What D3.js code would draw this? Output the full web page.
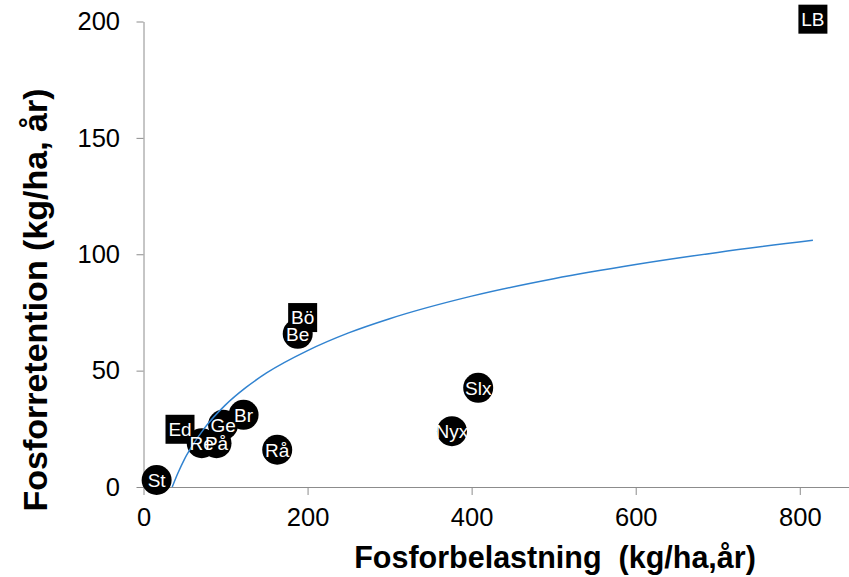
<!DOCTYPE html>
<html>
<head>
<meta charset="utf-8">
<script src="https://cdn.jsdelivr.net/npm/d3@7"></script>
<style>
  html, body { margin: 0; padding: 0; background: #fff; }
  svg { display: block; font-family: "Liberation Sans", Arial, sans-serif; }
</style>
</head>
<body>
<svg id="chart" width="849" height="577"></svg>
<script>
// Circle-marker sites
const circleSites = ["St", "Re", "På", "Ge", "Br", "Rå", "Be", "Nyx", "Slx"];
const circleLoad = [16, 71, 89, 97, 122, 163, 188, 376, 408];
const circleRet  = [3, 18.8, 18.8, 26.7, 31, 16, 65.8, 24, 42.6];

// Square-marker sites
const squareSites = ["Ed", "Bö", "LB"];
const squareLoad = [44.5, 194, 816];
const squareRet  = [24.8, 72.8, 201];

// Trend curve
const trendLoad = [35, 42, 50, 60, 75, 100, 125, 150, 200, 250, 300, 400, 500, 600, 700, 816];
const trendRet  = [0, 6, 12, 18, 25.6, 35.3, 42.8, 49, 58.6, 66.2, 72.3, 82, 89.5, 95.6, 100.8, 106];

const xTicks = [0, 200, 400, 600, 800];
const yTicks = [0, 50, 100, 150, 200];

const xTitle = "Fosforbelastning  (kg/ha,år)";
const yTitle = "Fosforretention (kg/ha, år)";

const svg = d3.select("#chart");
const x = d3.scaleLinear().domain([0, 860]).range([143.5, 849]);
const y = d3.scaleLinear().domain([0, 200]).range([487, 21.5]);
const axisColor = "#8c8c8c";
const font = "Liberation Sans, Arial, sans-serif";

// X axis
const gx = svg.append("g").attr("transform", `translate(0,${y(0)})`)
  .call(d3.axisBottom(x).tickValues(xTicks).tickSize(8).tickPadding(13).tickSizeOuter(0));
gx.select(".domain").attr("stroke", axisColor);
gx.selectAll(".tick line").attr("stroke", axisColor);
gx.selectAll(".tick text").attr("font-size", 25.5).attr("fill", "#000").attr("font-family", font);

// Y axis
const gy = svg.append("g").attr("transform", `translate(${x(0)},0)`)
  .call(d3.axisLeft(y).tickValues(yTicks).tickSize(7).tickPadding(16.5).tickSizeOuter(0));
gy.select(".domain").attr("stroke", axisColor);
gy.selectAll(".tick line").attr("stroke", axisColor);
gy.selectAll(".tick text").attr("font-size", 25.5).attr("fill", "#000").attr("font-family", font);

// Markers
const circles = circleSites.map((s, i) => ({ s, cx: x(circleLoad[i]), cy: y(circleRet[i]) }));
const squares = squareSites.map((s, i) => ({ s, cx: x(squareLoad[i]), cy: y(squareRet[i]) }));

svg.append("g").selectAll("circle").data(circles).join("circle")
  .attr("cx", d => d.cx).attr("cy", d => d.cy).attr("r", 15).attr("fill", "#000");
svg.append("g").selectAll("rect").data(squares).join("rect")
  .attr("x", d => d.cx - 14.5).attr("y", d => d.cy - 14.5)
  .attr("width", 29).attr("height", 29).attr("fill", "#000");

// Trend curve
const line = d3.line().x(d => x(d[0])).y(d => y(d[1])).curve(d3.curveMonotoneX);
svg.append("path").datum(trendLoad.map((v, i) => [v, trendRet[i]]))
  .attr("d", line).attr("fill", "none").attr("stroke", "#3183d0").attr("stroke-width", 1.5);

// Labels on top
svg.append("g").selectAll("text").data(circles.concat(squares)).join("text")
  .attr("x", d => d.cx).attr("y", d => d.cy).attr("dy", "0.36em")
  .attr("text-anchor", "middle").attr("fill", "#fff").attr("font-size", 19).text(d => d.s);

// Titles
svg.append("text").attr("x", 555).attr("y", 568).attr("text-anchor", "middle")
  .attr("font-size", 30.5).attr("font-weight", "bold").style("white-space", "pre").text(xTitle);
svg.append("text").attr("transform", "translate(47,300) rotate(-90)").attr("text-anchor", "middle")
  .attr("font-size", 34).attr("font-weight", "bold").text(yTitle);
</script>
</body>
</html>
